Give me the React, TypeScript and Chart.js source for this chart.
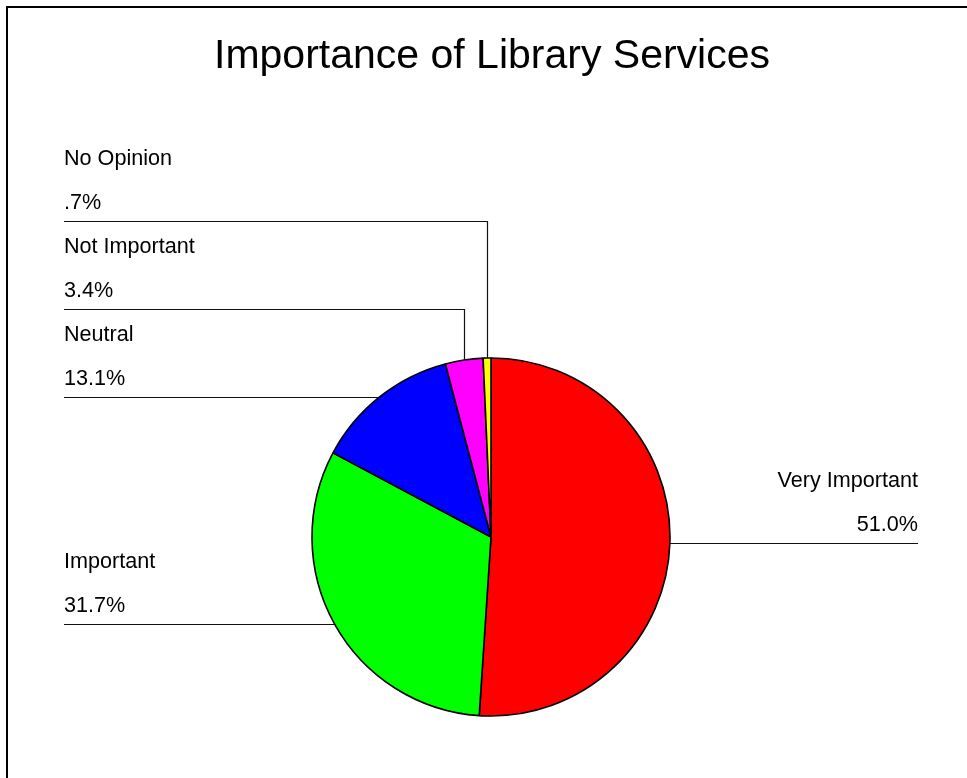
import React, { useEffect, useRef } from "react";
import { Chart, registerables } from "chart.js";

Chart.register(...registerables);

const chartTitle = "Importance of Library Services";
const categories = ["Very Important", "Important", "Neutral", "Not Important", "No Opinion"];
const percentages = [51.0, 31.7, 13.1, 3.4, 0.7];
const sliceColors = ["#FF0000", "#00FF00", "#0000FF", "#FF00FF", "#FFFF00"];

const W = 967;
const H = 778;
const FONT = '"Liberation Sans", Arial, Helvetica, sans-serif';

function fmtPct(v: number): string {
  let s = v.toFixed(1);
  if (s.startsWith("0")) s = s.slice(1);
  return s + "%";
}

const labelPlugin = {
  id: "leaderLabels",
  beforeDraw(chart: any) {
    const ctx = chart.ctx;
    ctx.save();
    ctx.fillStyle = "#fff";
    ctx.fillRect(0, 0, W, H);
    ctx.strokeStyle = "#000";
    ctx.lineWidth = 2;
    ctx.beginPath();
    ctx.moveTo(7, H + 20);
    ctx.lineTo(7, 7);
    ctx.lineTo(W + 20, 7);
    ctx.stroke();
    ctx.restore();
  },
  afterDatasetsDraw(chart: any) {
    const ctx = chart.ctx;
    const meta = chart.getDatasetMeta(0);
    const leftX = 64;
    const rightX = 918;
    const gap = 88;
    ctx.save();
    // title
    ctx.fillStyle = "#000";
    ctx.font = `41px ${FONT}`;
    ctx.textAlign = "center";
    ctx.textBaseline = "alphabetic";
    ctx.fillText(chartTitle, 492, 68);

    const items = meta.data.map((arc: any, i: number) => {
      const p = arc.getProps(["x", "y", "startAngle", "endAngle", "outerRadius"], true);
      const mid = (p.startAngle + p.endAngle) / 2;
      const px = p.x + p.outerRadius * Math.cos(mid);
      const py = p.y + p.outerRadius * Math.sin(mid);
      return { i, px, py, right: Math.cos(mid) > 0 };
    });

    const place = (list: any[]) => {
      list.sort((a, b) => b.py - a.py);
      let prev = Infinity;
      for (const it of list) {
        it.ly = Math.min(it.py, prev - gap);
        prev = it.ly;
      }
    };
    const lefts = items.filter((d: any) => !d.right);
    const rights = items.filter((d: any) => d.right);
    place(lefts);
    place(rights);

    ctx.strokeStyle = "#111";
    ctx.lineWidth = 1.2;
    ctx.font = `21.6px ${FONT}`;
    for (const it of [...lefts, ...rights]) {
      const ly = Math.round(it.ly) + 0.5;
      const px = Math.round(it.px) + 0.5;
      ctx.beginPath();
      if (it.ly < it.py - 1) {
        ctx.moveTo(px, it.py);
        ctx.lineTo(px, ly);
        ctx.lineTo(it.right ? rightX : leftX, ly);
      } else {
        ctx.moveTo(it.px, ly);
        ctx.lineTo(it.right ? rightX : leftX, ly);
      }
      ctx.stroke();
      ctx.textAlign = it.right ? "right" : "left";
      const tx = it.right ? rightX : leftX;
      ctx.fillText(categories[it.i], tx, it.ly - 56);
      ctx.fillText(fmtPct(percentages[it.i]), tx, it.ly - 12);
    }
    ctx.restore();
  },
};

export default function App() {
  const ref = useRef<HTMLCanvasElement | null>(null);
  useEffect(() => {
    if (!ref.current) return;
    const chart = new Chart(ref.current, {
      type: "pie",
      data: {
        labels: categories,
        datasets: [
          {
            data: percentages,
            backgroundColor: sliceColors,
            borderColor: "#000",
            borderWidth: 1.6,
          },
        ],
      },
      options: {
        responsive: false,
        devicePixelRatio: 1,
        animation: false,
        radius: 179,
        layout: { padding: { left: 215, right: 200, top: 310, bottom: 14 } },
        plugins: {
          legend: { display: false },
          title: { display: false },
          tooltip: { enabled: false },
        },
        events: [],
      } as any,
      plugins: [labelPlugin],
    });
    return () => chart.destroy();
  }, []);
  return (
    <div style={{ position: "fixed", left: 0, top: 0, width: W, height: H, background: "#fff" }}>
      <canvas ref={ref} width={W} height={H} style={{ display: "block", width: W, height: H }} />
    </div>
  );
}
